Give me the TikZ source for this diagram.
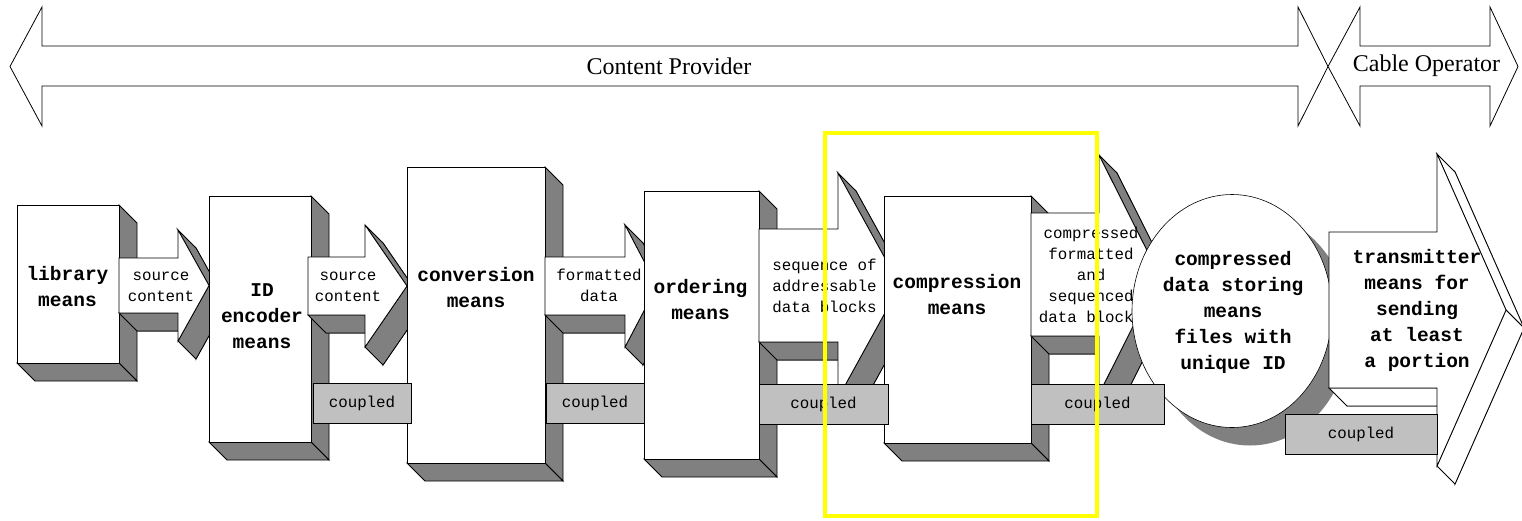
\documentclass[tikz,border=0pt]{standalone}
\usepackage{fontspec}
\setmainfont{Liberation Serif}
\newfontfamily\monof{Liberation Mono}
\usetikzlibrary{shapes.geometric}
\definecolor{facegray}{HTML}{808080}
\definecolor{bargray}{HTML}{C0C0C0}
\definecolor{hiyellow}{HTML}{FFFF00}
\def\dep{18}
% 3D box: name, x1, y1, x2, y2, text position, text
\newcommand\tdbox[7]{%
  \filldraw[edge,fill=facegray] (#4,#3) -- (#4+\dep,#3+\dep) -- (#4+\dep,#5+\dep) -- (#4,#5) -- cycle;
  \filldraw[edge,fill=facegray] (#2,#5) -- (#2+\dep,#5+\dep) -- (#4+\dep,#5+\dep) -- (#4,#5) -- cycle;
  \filldraw[edge,fill=white] (#2,#3) rectangle (#4,#5);
  \node[bigtxt] (#1) at (#6) {#7};
}
% 3D block arrow: x0, body top, body bottom, head base x, head half height, tip x, extrusion colour
\newcommand\tdarrow[7]{%
  \pgfmathsetmacro\aYm{(#2+#3)/2}%
  \pgfmathsetmacro\aTop{\aYm-#5}%
  \pgfmathsetmacro\aBot{\aYm+#5}%
  \filldraw[edge,fill=#7] (#1+\dep,#2+\dep) -- (#4+\dep,#2+\dep) -- (#4+\dep,\aTop+\dep) -- (#6+\dep,\aYm+\dep) -- (#4+\dep,\aBot+\dep) -- (#4+\dep,#3+\dep) -- (#1+\dep,#3+\dep) -- cycle;
  \filldraw[edge,fill=#7] (#1,#3) -- (#4,#3) -- (#4+\dep,#3+\dep) -- (#1+\dep,#3+\dep) -- cycle;
  \filldraw[edge,fill=#7] (#4,\aTop) -- (#6,\aYm) -- (#6+\dep,\aYm+\dep) -- (#4+\dep,\aTop+\dep) -- cycle;
  \filldraw[edge,fill=#7] (#6,\aYm) -- (#4,\aBot) -- (#4+\dep,\aBot+\dep) -- (#6+\dep,\aYm+\dep) -- cycle;
  \filldraw[edge,fill=white] (#1,#2) -- (#4,#2) -- (#4,\aTop) -- (#6,\aYm) -- (#4,\aBot) -- (#4,#3) -- (#1,#3) -- cycle;
}
\begin{document}
\begin{tikzpicture}[x=1pt,y=-1pt,line join=miter,
  edge/.style={draw=black,line width=0.8pt},
  bigtxt/.style={font=\monof\bfseries\fontsize{19.5}{26}\selectfont,align=center,inner sep=0pt},
  smalltxt/.style={font=\monof\fontsize{15.8}{21}\selectfont,align=center,inner sep=0pt},
  captxt/.style={font=\fontsize{24}{26}\selectfont,inner sep=0pt},
  bar/.style={draw=black,fill=bargray,line width=0.8pt,font=\monof\fontsize{15.8}{21}\selectfont,inner sep=0pt}]
\useasboundingbox (0,0) rectangle (1522,520);
\fill[white] (0,0) rectangle (1522,520);

% top double arrows
\filldraw[edge,fill=white] (10,66.5) -- (42,7) -- (42,46) -- (1298,46) -- (1298,7) -- (1328,66.5) -- (1298,126) -- (1298,86) -- (42,86) -- (42,126) -- cycle;
\node[captxt] (cp) at (669,66) {Content Provider};
\filldraw[edge,fill=white] (1328,66.5) -- (1360,7) -- (1360,46) -- (1490,46) -- (1490,7) -- (1518,66.5) -- (1490,126) -- (1490,86) -- (1360,86) -- (1360,126) -- cycle;
\node[captxt] (co) at (1426.5,66) {Cable Operator};

% pipeline
\tdbox{lib}{17}{205}{119}{363}{67.5,286.5}{library\\means}
\tdarrow{119}{258}{313}{178}{55.5}{209}{facegray}
\node[smalltxt] (t1) at (161,286.5) {source\\content};

\tdbox{enc}{209}{196}{311}{442}{262,316}{ID\\encoder\\means}
\tdarrow{308}{257}{315}{365}{61}{407}{facegray}
\node[smalltxt] (t2) at (348,286.5) {source\\content};

\tdbox{conv}{407}{167}{545}{463}{476,288}{conversion\\means}
\tdarrow{545}{257}{315}{625}{61}{657}{facegray}
\node[smalltxt] (t3) at (599,285) {formatted\\data};

\tdbox{ord}{644}{191}{759}{459}{700.5,299.5}{ordering\\means}
\tdarrow{759}{229}{342}{838}{112.5}{900}{facegray}
\node[smalltxt] (t4) at (824.5,286) {sequence of\\addressable\\data blocks};

\tdbox{comp}{884}{196}{1031}{443}{957,294.5}{compression\\means}
\tdarrow{1031}{213}{336}{1099}{119.5}{1159}{facegray}
\node[smalltxt] (t5) at (1091,274.5) {compressed\\formatted\\and\\sequenced\\data blocks};

% storage ellipse
\node[ellipse,fill=facegray,minimum width=200pt,minimum height=233pt,inner sep=0pt] (storeshadow) at (1250,329) {};
\node[ellipse,draw=black,line width=0.6pt,fill=white,minimum width=200pt,minimum height=233pt,inner sep=0pt] (storeshape) at (1232,311) {};
\node[bigtxt] (store) at (1233,312) {compressed\\data storing\\means\\files with\\unique ID};

% transmitter
\tdarrow{1329}{232}{388}{1437}{156}{1506}{white}
\node[bigtxt] (tx) at (1417,310.5) {transmitter\\means for\\sending\\at least\\a portion};

% coupled bars
\node[bar,minimum width=98pt,minimum height=40pt] (c1) at (362,403.5) {coupled};
\node[bar,minimum width=98pt,minimum height=40pt] (c2) at (595,403.5) {coupled};
\node[bar,minimum width=129pt,minimum height=40pt] (c3) at (823.5,404) {coupled};
\node[bar,minimum width=133pt,minimum height=40pt] (c4) at (1097.5,404) {coupled};
\node[bar,minimum width=152pt,minimum height=40pt] (c5) at (1361,434.5) {coupled};

% highlight frame
\draw[hiyellow,line width=4pt] (825,133) rectangle (1097,516);
\end{tikzpicture}
\end{document}
